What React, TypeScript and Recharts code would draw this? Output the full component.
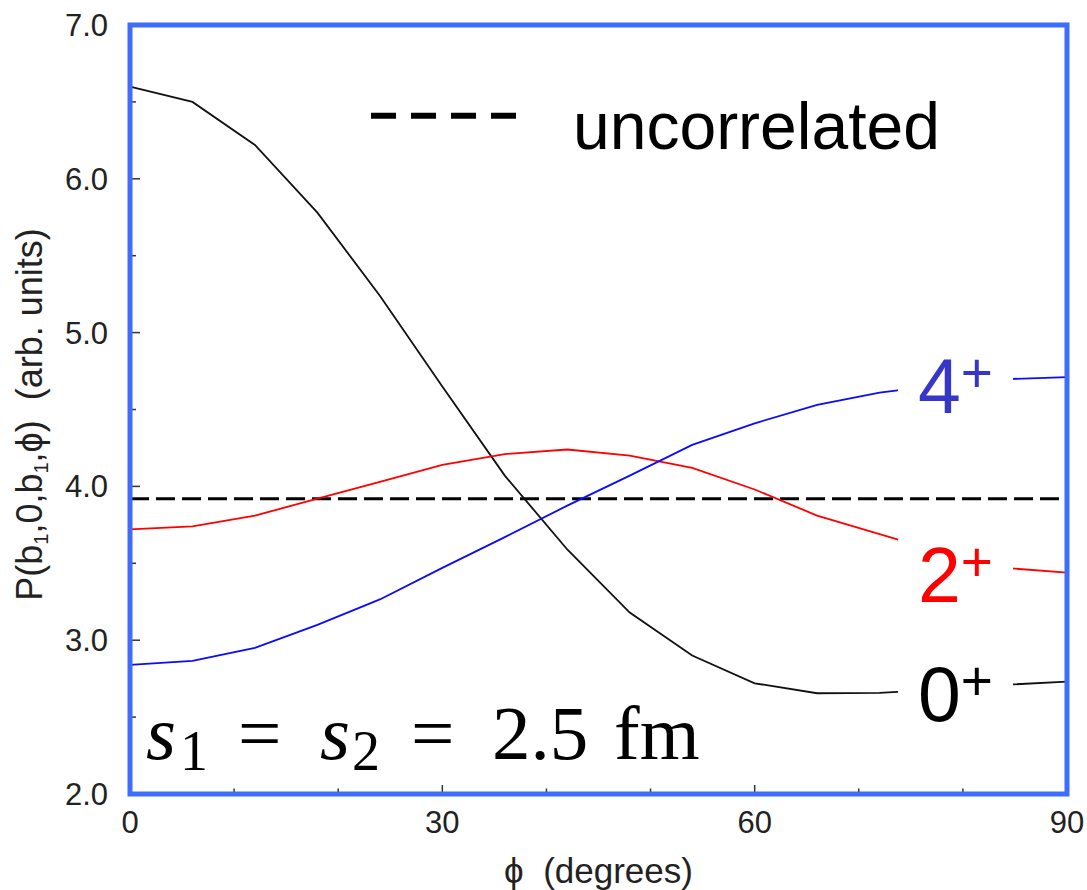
import { LineChart, Line, XAxis, YAxis, ReferenceLine, ReferenceDot, ReferenceArea } from "recharts"

// phi in degrees, P in arbitrary units
const phi = [0, 6, 12, 18, 24, 30, 36, 42, 48, 54, 60, 66, 72, 78, 84, 90]
const zeroPlus = [6.6, 6.5, 6.22, 5.78, 5.24, 4.65, 4.07, 3.59, 3.18, 2.9, 2.72, 2.655, 2.657, 2.68, 2.71, 2.73]
const twoPlus = [3.72, 3.74, 3.81, 3.92, 4.03, 4.14, 4.21, 4.24, 4.2, 4.12, 3.98, 3.81, 3.69, 3.57, 3.47, 3.44]
const fourPlus = [2.84, 2.865, 2.95, 3.1, 3.265, 3.47, 3.67, 3.875, 4.07, 4.27, 4.41, 4.53, 4.61, 4.66, 4.697, 4.71]
const uncorrelated = 3.92

const xTicks = [0, 10, 20, 30, 40, 50, 60, 70, 80, 90]
const xLabels = [0, 30, 60, 90]
const yTicks = [2, 2.5, 3, 3.5, 4, 4.5, 5, 5.5, 6, 6.5, 7]
const yLabels = [2, 3, 4, 5, 6, 7]

const data = phi.map((p, i) => ({
  phi: p,
  zero: zeroPlus[i],
  two: twoPlus[i],
  four: fourPlus[i],
}))

const FONT = "'Liberation Sans', Arial, Helvetica, sans-serif"
const SERIF = "'Liberation Serif', 'Times New Roman', serif"
const FRAME = "#3d6cff"
const TICK = "#333"

function BottomTick(props: any) {
  const { x, y, payload } = props
  const major = xLabels.includes(payload.value)
  return (
    <g>
      <line x1={x} x2={x} y1={y} y2={y - (major ? 9 : 5.5)} stroke={TICK} strokeWidth={1.5} />
      {major && (
        <text x={x} y={y + 17} dy="0.71em" textAnchor="middle" fontFamily={FONT} fontSize={31} fill="#222">
          {payload.value}
        </text>
      )}
    </g>
  )
}

function TopTick(props: any) {
  const { x, y, payload } = props
  const major = xLabels.includes(payload.value)
  return <line x1={x} x2={x} y1={y} y2={y + (major ? 9 : 5.5)} stroke={TICK} strokeWidth={1.5} />
}

function LeftTick(props: any) {
  const { x, y, payload } = props
  const major = yLabels.includes(payload.value)
  return (
    <g>
      <line x1={x} x2={x + (major ? 10 : 6)} y1={y} y2={y} stroke={TICK} strokeWidth={1.5} />
      {major && (
        <text x={x - 22} y={y} dy="0.355em" textAnchor="end" fontFamily={FONT} fontSize={31} fill="#222">
          {payload.value.toFixed(1)}
        </text>
      )}
    </g>
  )
}

function RightTick(props: any) {
  const { x, y, payload } = props
  const major = yLabels.includes(payload.value)
  return <line x1={x} x2={x - (major ? 10 : 6)} y1={y} y2={y} stroke={TICK} strokeWidth={1.5} />
}

function StateLabel({ cx, cy, text, color }: any) {
  return (
    <g>
      <rect x={cx - 20} y={cy - 70} width={115} height={85} fill="#fff" />
      <text x={cx} y={cy} fill={color} fontFamily={FONT} fontSize={77}>
        {text}
        <tspan dy={-21} fontSize={55}>+</tspan>
      </text>
    </g>
  )
}

function LegendMark({ cx, cy }: any) {
  return (
    <g>
      <line x1={cx} x2={cx + 145} y1={cy} y2={cy} stroke="#000" strokeWidth={6} strokeDasharray="25 15" />
      <text x={cx + 202} y={cy + 33} fontFamily={FONT} fontSize={66} fill="#000">
        uncorrelated
      </text>
    </g>
  )
}

function SizeNote({ cx, cy }: any) {
  const at = (px: number) => cx + (px - 146)
  return (
    <text y={cy} fontFamily={SERIF} fontSize={77} fill="#000">
      <tspan x={at(146)} fontStyle="italic">s</tspan>
      <tspan x={at(180)} dy={11} fontSize={56}>1</tspan>
      <tspan x={at(238)} dy={-11}>=</tspan>
      <tspan x={at(320)} fontStyle="italic">s</tspan>
      <tspan x={at(352)} dy={11} fontSize={56}>2</tspan>
      <tspan x={at(411)} dy={-11}>=</tspan>
      <tspan x={at(492)}>2.5</tspan>
      <tspan x={at(614)}>fm</tspan>
    </text>
  )
}

export default function App() {
  return (
    <div>
      <style>{"body{margin:0;background:#fff}"}</style>
      <LineChart width={1087} height={890} data={data} margin={{ top: 25, right: 20, bottom: 0, left: 0 }}>
        <XAxis
          xAxisId="bottom"
          dataKey="phi"
          type="number"
          domain={[0, 90]}
          ticks={xTicks}
          interval={0}
          height={96}
          tickSize={0}
          tickMargin={0}
          tickLine={false}
          axisLine={false}
          tick={BottomTick}
          label={{
            content: (p: any) => {
              const vb = p.viewBox
              return (
                <text
                  x={vb.x + vb.width / 2}
                  y={vb.y + 89}
                  textAnchor="middle"
                  fontFamily={FONT}
                  fontSize={35}
                  fill="#222"
                  style={{ whiteSpace: "pre" }}
                >
                  {"ϕ  (degrees)"}
                </text>
              )
            },
          }}
        />
        <XAxis
          xAxisId="top"
          orientation="top"
          dataKey="phi"
          type="number"
          domain={[0, 90]}
          ticks={xTicks}
          interval={0}
          height={0}
          tickSize={0}
          tickMargin={0}
          tickLine={false}
          axisLine={false}
          tick={TopTick}
        />
        <YAxis
          yAxisId="left"
          type="number"
          domain={[2, 7]}
          ticks={yTicks}
          interval={0}
          width={130}
          tickSize={0}
          tickMargin={0}
          tickLine={false}
          axisLine={false}
          tick={LeftTick}
          label={{
            content: (p: any) => {
              const vb = p.viewBox
              const cy = vb.y + vb.height / 2 + 5
              return (
                <text
                  transform={`translate(42, ${cy}) rotate(-90)`}
                  textAnchor="middle"
                  fontFamily={FONT}
                  fontSize={36}
                  fill="#222"
                  style={{ whiteSpace: "pre" }}
                >
                  P(b
                  <tspan fontSize={20} dy={6}>1</tspan>
                  <tspan dy={-6}>,0,b</tspan>
                  <tspan fontSize={20} dy={6}>1</tspan>
                  <tspan dy={-6}>{",ϕ)  (arb. units)"}</tspan>
                </text>
              )
            },
          }}
        />
        <YAxis
          yAxisId="right"
          orientation="right"
          type="number"
          domain={[2, 7]}
          ticks={yTicks}
          interval={0}
          width={0}
          tickSize={0}
          tickMargin={0}
          tickLine={false}
          axisLine={false}
          tick={RightTick}
        />

        <ReferenceLine
          xAxisId="bottom"
          yAxisId="left"
          y={uncorrelated}
          stroke="#000"
          strokeWidth={3}
          strokeDasharray="19 7"
        />
        <Line xAxisId="bottom" yAxisId="left" type="linear" dataKey="zero" stroke="#111" strokeWidth={1.8} dot={false} isAnimationActive={false} />
        <Line xAxisId="bottom" yAxisId="left" type="linear" dataKey="two" stroke="#ff0000" strokeWidth={1.8} dot={false} isAnimationActive={false} />
        <Line xAxisId="bottom" yAxisId="left" type="linear" dataKey="four" stroke="#0a0aff" strokeWidth={1.8} dot={false} isAnimationActive={false} />

        <ReferenceDot xAxisId="bottom" yAxisId="left" x={75.69} y={4.477} r={0} zIndex={3000}
          shape={(p: any) => <StateLabel {...p} text="4" color="#3636c8" />} />
        <ReferenceDot xAxisId="bottom" yAxisId="left" x={75.69} y={3.25} r={0} zIndex={3000}
          shape={(p: any) => <StateLabel {...p} text="2" color="#ff0000" />} />
        <ReferenceDot xAxisId="bottom" yAxisId="left" x={75.69} y={2.475} r={0} zIndex={3000}
          shape={(p: any) => <StateLabel {...p} text="0" color="#000" />} />
        <ReferenceDot xAxisId="bottom" yAxisId="left" x={23.15} y={6.41} r={0} zIndex={3000}
          shape={(p: any) => <LegendMark {...p} />} />
        <ReferenceDot xAxisId="bottom" yAxisId="left" x={1.537} y={2.228} r={0} zIndex={3000}
          shape={(p: any) => <SizeNote {...p} />} />

        <ReferenceArea
          xAxisId="bottom"
          yAxisId="left"
          x1={0}
          x2={90}
          y1={2}
          y2={7}
          fill="none"
          stroke={FRAME}
          strokeWidth={5}
          zIndex={3100}
        />
      </LineChart>
    </div>
  )
}
